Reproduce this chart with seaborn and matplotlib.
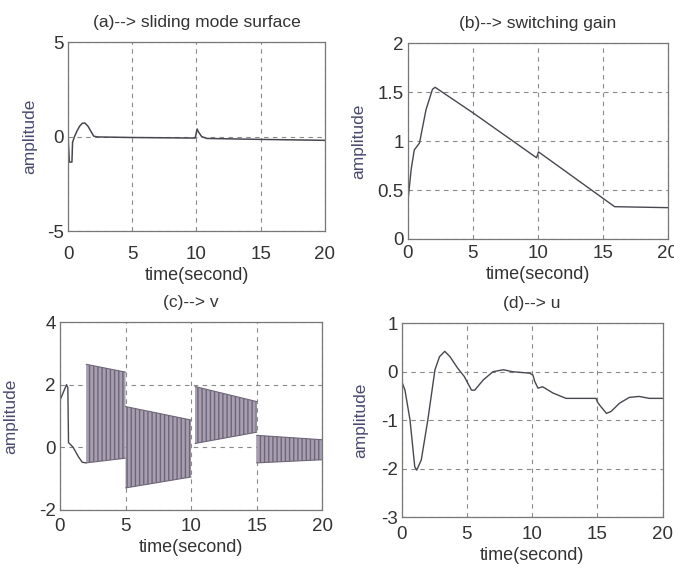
import numpy as np
import pandas as pd
import matplotlib
matplotlib.use("Agg")
import matplotlib.pyplot as plt
import seaborn as sns

# ---------------- data ----------------
# (a) sliding mode surface
a_t = [0, 0.1, 0.3, 0.35, 0.5, 0.7, 0.9, 1.1, 1.3, 1.55, 1.8, 2.0, 2.3, 5, 9.9, 10.05, 10.15, 10.4, 10.8, 15, 20]
a_s = [0, -1.35, -1.35, -0.3, 0.0, 0.3, 0.55, 0.7, 0.72, 0.55, 0.25, 0.02, -0.02, -0.05, -0.08, 0.4, 0.25, 0.0, -0.1, -0.15, -0.2]

# (b) switching gain
b_t = [0, 0.26, 0.5, 0.9, 1.4, 1.9, 2.1, 5, 9.9, 10.05, 15.9, 20]
b_k = [0.37, 0.71, 0.91, 0.98, 1.32, 1.53, 1.55, 1.29, 0.83, 0.89, 0.33, 0.32]

# (c) v : initial transient + chattering envelopes
c_t0 = [0, 0.3, 0.5, 0.6, 0.65, 1.0, 1.4, 1.7, 2.0]
c_v0 = [1.5, 1.8, 2.0, 1.9, 0.15, 0.0, -0.3, -0.48, -0.5]
c_seg_t = [[2.0, 5.0], [5.0, 10.0], [10.3, 15.0], [15.0, 20.0]]
c_upper = [[2.65, 2.4], [1.3, 0.87], [1.94, 1.46], [0.38, 0.24]]
c_lower = [[-0.5, -0.35], [-1.3, -0.95], [0.12, 0.48], [-0.5, -0.4]]

# (d) u
d_t = [0, 0.25, 0.64, 1.0, 1.15, 1.5, 2.0, 2.55, 2.9, 3.3, 3.7, 4.3, 4.8, 5.35, 5.6, 6.25, 7.0, 7.8,
       8.5, 9.8, 10.06, 10.2, 10.45, 10.8, 11.6, 12.6, 13.4, 14.9, 15.0, 15.15, 15.7, 16.05, 16.7,
       17.45, 18.2, 19.0, 20]
d_u = [-0.2, -0.38, -1.0, -1.96, -2.03, -1.82, -1.0, 0.04, 0.31, 0.42, 0.31, 0.07, -0.1, -0.38, -0.38,
       -0.17, 0.0, 0.04, 0.0, -0.03, -0.07, -0.2, -0.34, -0.31, -0.44, -0.55, -0.55, -0.55, -0.62,
       -0.68, -0.86, -0.82, -0.65, -0.53, -0.51, -0.55, -0.55]

titles = ["(a)--> sliding mode surface", "(b)--> switching gain", "(c)--> v", "(d)--> u"]
xticks = [0, 5, 10, 15, 20]
yticks = [[-5, 0, 5], [0, 0.5, 1, 1.5, 2], [-2, 0, 2, 4], [-3, -2, -1, 0, 1]]
ylims = [(-5, 5), (0, 2), (-2, 4), (-3, 1)]

# ---------------- style ----------------
sns.set_theme(style="white")
plt.rcParams["font.family"] = ["Liberation Sans", "DejaVu Sans"]

fig = plt.figure(figsize=(6.74, 5.69), dpi=100)
positions = [
    [0.101, 0.594, 0.381, 0.332],
    [0.605, 0.580, 0.386, 0.344],
    [0.089, 0.104, 0.389, 0.330],
    [0.596, 0.091, 0.387, 0.341],
]
xpads = [11, 4.5, 6, 6]
ylabpads = [7, 8, 15, 9]
axes = [fig.add_axes(p) for p in positions]

line_col = "#4a4650"
txt_col = "#333333"
lab_col = "#4a4a70"

sns.lineplot(x=a_t, y=a_s, ax=axes[0], color=line_col, lw=1.1)
sns.lineplot(x=b_t, y=b_k, ax=axes[1], color=line_col, lw=1.0)
sns.lineplot(x=c_t0, y=c_v0, ax=axes[2], color=line_col, lw=1.0)
for st, up, lo in zip(c_seg_t, c_upper, c_lower):
    axes[2].fill_between(st, lo, up, facecolor="#a79fb0", edgecolor="#6e6678",
                         hatch="||||", lw=0.0, zorder=2)
    sns.lineplot(x=st, y=up, ax=axes[2], color="#6e6678", lw=0.8)
    sns.lineplot(x=st, y=lo, ax=axes[2], color="#6e6678", lw=0.8)
sns.lineplot(x=d_t, y=d_u, ax=axes[3], color=line_col, lw=1.0)

for i, ax in enumerate(axes):
    ax.set_xlim(0, 20)
    ax.set_ylim(*ylims[i])
    ax.set_xticks(xticks)
    ax.set_yticks(yticks[i])
    ax.set_yticklabels([("%g" % v) for v in yticks[i]])
    ax.grid(True, ls=(0, (4, 4)), color="#8a8a8a", lw=0.8)
    ax.set_axisbelow(True)
    for sp in ax.spines.values():
        sp.set_color("#777777")
        sp.set_linewidth(0.9)
    ax.tick_params(direction="in", length=3, color="#777777", labelsize=13.5,
                   labelcolor=txt_col, pad=3)
    ax.tick_params(axis="x", pad=xpads[i])
    ax.set_xlabel("time(second)", fontsize=13, color=txt_col, labelpad=3)
    ax.set_ylabel("amplitude", fontsize=12.5, color=lab_col, labelpad=ylabpads[i])
    ax.set_title(titles[i], fontsize=12.5, color=txt_col, pad=11)

fig.savefig("out.png", dpi=100, facecolor="white")
